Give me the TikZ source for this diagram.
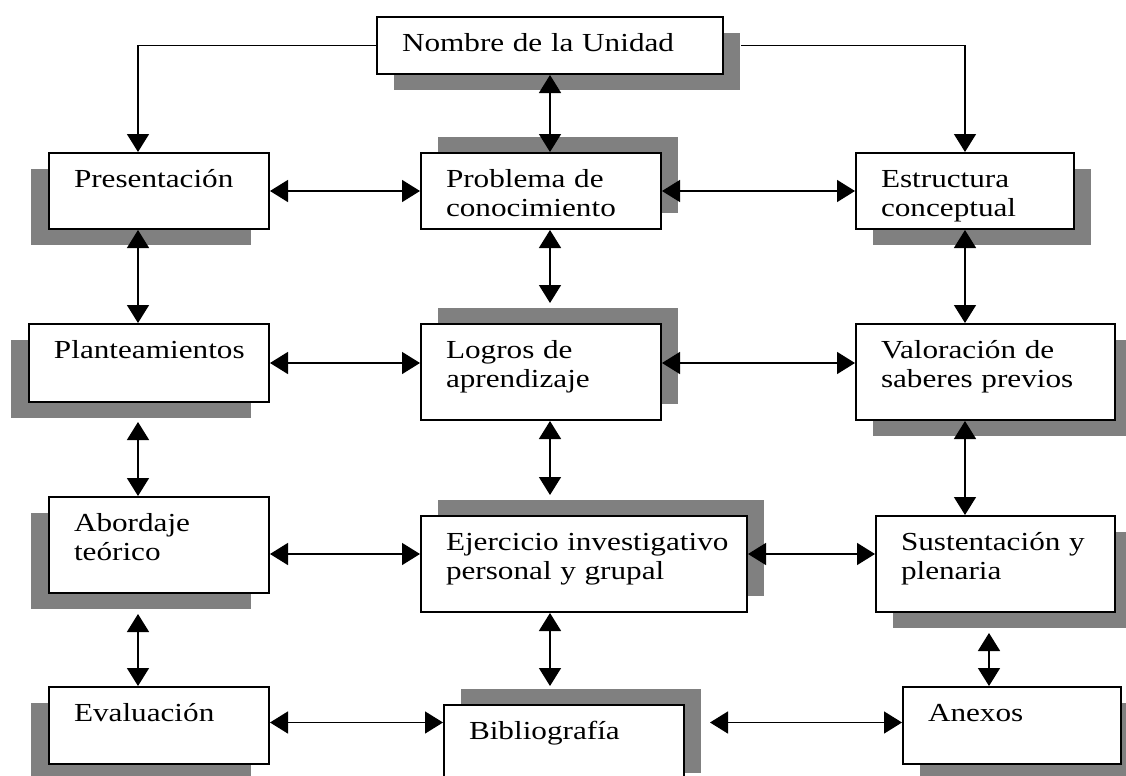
\documentclass[tikz,border=0pt]{standalone}
\usepackage{fontspec}
\setmainfont{Liberation Serif}[FakeStretch=1.2]
\usepackage{tikz}
\usetikzlibrary{arrows.meta,shadows}
\definecolor{shadowgray}{RGB}{128,128,128}

\begin{document}
\begin{tikzpicture}[x=0.5pt,y=-0.5pt,<->,>={Triangle[length=9pt,width=11pt]},
  line width=0.75pt]
  \tikzstyle{unit}=[draw,line width=1pt,fill=white,anchor=north west,align=left,
    inner xsep=12.5pt,inner ysep=0pt,text height=17pt,
    font=\fontsize{13pt}{14.5pt}\selectfont]
  \tikzstyle{shadow rd}=[drop shadow={shadow xshift=8.5pt,shadow yshift=-8pt,opacity=1,fill=shadowgray}]
  \tikzstyle{shadow ld}=[drop shadow={shadow xshift=-9pt,shadow yshift=-8pt,opacity=1,fill=shadowgray}]
  \tikzstyle{shadow ru}=[drop shadow={shadow xshift=8.5pt,shadow yshift=8pt,opacity=1,fill=shadowgray}]

  \useasboundingbox (0,0) rectangle (1126,776);
  \clip (0,0) rectangle (1126,776);

  \node[unit,shadow rd,text width=148pt,text depth=11.5pt] (nombre) at (376,16) {Nombre de la Unidad};
  \node[unit,shadow ld,text width=85pt,text depth=21pt] (pres) at (48,152) {Presentación};
  \node[unit,shadow ru,text width=95pt,text depth=21pt] (prob) at (420,152) {Problema de\\conocimiento};
  \node[unit,shadow rd,text width=84pt,text depth=21pt] (estr) at (855,152) {Estructura\\conceptual};
  \node[unit,shadow ld,text width=95pt,text depth=22pt] (plan) at (28,323) {Planteamientos};
  \node[unit,shadow ru,text width=95pt,text depth=31pt] (logros) at (420,323) {Logros de\\aprendizaje};
  \node[unit,shadow rd,text width=104.5pt,text depth=31pt] (valor) at (855,323) {Valoración de\\saberes previos};
  \node[unit,shadow ld,text width=85pt,text depth=31pt] (abord) at (48,496) {Abordaje\\teórico};
  \node[unit,shadow ru,text width=138pt,text depth=31pt] (ejer) at (420,515) {\mbox{Ejercicio investigativo}\\personal y grupal};
  \node[unit,shadow rd,text width=94.5pt,text depth=31pt] (sust) at (875,515) {Sustentación y\\plenaria};
  \node[unit,shadow ld,text width=85pt,text depth=21.5pt] (eval) at (48,686) {Evaluación};
  \node[unit,shadow ru,text width=95pt,text depth=25pt] (biblio) at (443,704) {Bibliografía};
  \node[unit,shadow rd,text width=84pt,text depth=21.5pt] (anex) at (902,686) {Anexos};

  % columns and rows of the links
  \coordinate (lcol) at ([xshift=-10.5pt]pres.north);
  \coordinate (mcol) at (nombre.south);
  \coordinate (acol) at ([xshift=-3.25pt]sust.south);
  \coordinate (r3) at ([yshift=-4.5pt]abord.east);
  \coordinate (r4) at ([yshift=1.5pt]eval.east);

  \draw[->] (nombre.west) -| (lcol);
  \draw[->] ([xshift=8.5pt]nombre.east) -| (estr.north);

  \path
  (lcol |- pres.south) edge (lcol |- plan.north)
  ([yshift=-9.5pt]lcol |- plan.south) edge (lcol |- abord.north)
  ([yshift=-10pt]lcol |- abord.south) edge (lcol |- eval.north)
  (mcol) edge (mcol |- prob.north)
  (mcol |- prob.south) edge ([yshift=10pt]mcol |- logros.north)
  (mcol |- logros.south) edge ([yshift=10pt]mcol |- ejer.north)
  (mcol |- ejer.south) edge ([yshift=9pt]mcol |- biblio.north)
  (estr.south) edge (estr.south |- valor.north)
  (estr.south |- valor.south) edge (estr.south |- sust.north)
  ([yshift=-10pt]acol) edge (acol |- anex.north)
  ;
  \path
  (pres) edge (prob)
  (prob) edge (estr)
  (plan.east) edge (plan.east -| logros.west)
  (logros.east |- plan.east) edge (plan.east -| valor.west)
  (r3) edge (r3 -| ejer.west)
  (r3 -| ejer.east) edge (r3 -| sust.west)
  (r4) edge (r4 -| biblio.west)
  ([xshift=12.5pt]r4 -| biblio.east) edge (r4 -| anex.west)
  ;
\end{tikzpicture}
\end{document}
